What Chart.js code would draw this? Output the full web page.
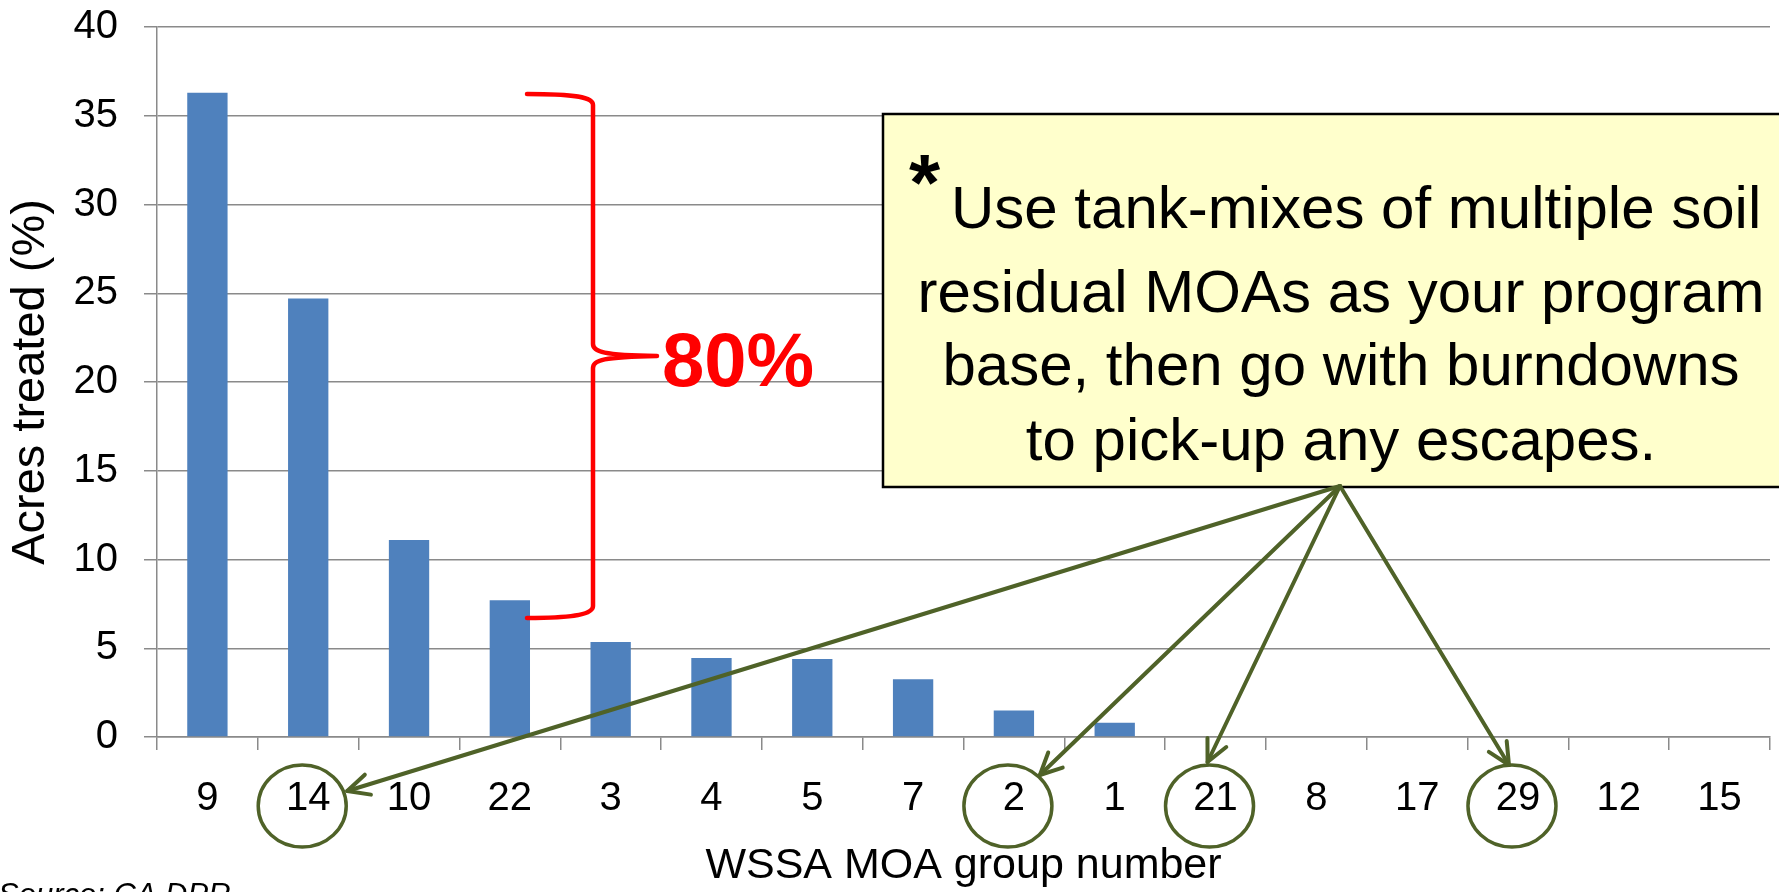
<!DOCTYPE html>
<html><head><meta charset="utf-8">
<script src="https://cdn.jsdelivr.net/npm/chart.js@4/dist/chart.umd.min.js"></script>
<style>html,body{margin:0;padding:0;background:#fff;overflow:hidden}canvas{display:block}</style>
</head><body>
<canvas id="c" width="1779" height="892"></canvas>
<script>
// ---- data ----
const categories = ['9','14','10','22','3','4','5','7','2','1','21','8','17','29','12','15'];
const acresTreated = [36.3, 24.7, 11.1, 7.7, 5.35, 4.45, 4.4, 3.25, 1.5, 0.8, 0, 0, 0, 0, 0, 0];
const yTickValues = [0, 5, 10, 15, 20, 25, 30, 35, 40];
const circledGroups = ['14', '2', '21', '29'];
const yAxisTitle = 'Acres treated (%)';
const xAxisTitle = 'WSSA MOA group number';
const braceLabel = '80%';
const boxLines = ['Use tank-mixes of multiple soil', 'residual MOAs as your program', 'base, then go with burndowns', 'to pick-up any escapes.'];
const sourceNote = 'Source: CA DPR';

const FONT = '"Liberation Sans", Arial, Helvetica, sans-serif';
const GRID = '#8a8a8a';
const OLIVE = '#4F6228';

// arrow tip offsets relative to circle centres (annotation styling)
const tipOffsets = {'14': [45, -15], '2': [32, -31], '21': [-2, -44], '29': [-3, -41]};

const annotations = {
  id: 'annotations',
  afterDatasetsDraw(chart) {
    const {ctx, scales: {x}} = chart;
    ctx.save();

    // yellow call-out box
    const bx = 883, by = 114, bb = 487;
    ctx.fillStyle = '#FFFFCC';
    ctx.fillRect(bx, by, 1800 - bx, bb - by);
    ctx.strokeStyle = '#000';
    ctx.lineWidth = 2.5;
    ctx.strokeRect(bx, by, 1800 - bx, bb - by);

    ctx.fillStyle = '#000';
    ctx.font = 'bold 80px ' + FONT;
    ctx.textAlign = 'left';
    ctx.textBaseline = 'alphabetic';
    ctx.fillText('*', 909, 210);
    ctx.font = '60px ' + FONT;
    ctx.fillText(boxLines[0], 951, 228);
    ctx.textAlign = 'center';
    const cx = 1341;
    ctx.fillText(boxLines[1], cx, 312);
    ctx.fillText(boxLines[2], cx, 385);
    ctx.fillText(boxLines[3], cx, 460);

    // red brace
    ctx.strokeStyle = '#FF0000';
    ctx.lineWidth = 4.5;
    ctx.lineJoin = 'round';
    ctx.lineCap = 'round';
    ctx.beginPath();
    ctx.moveTo(527, 94);
    ctx.bezierCurveTo(575, 94, 593, 97, 593, 105);
    ctx.lineTo(593, 344);
    ctx.bezierCurveTo(593, 352, 603, 355, 657, 356);
    ctx.bezierCurveTo(603, 357, 593, 360, 593, 368);
    ctx.lineTo(593, 606);
    ctx.bezierCurveTo(593, 614, 575, 618, 527, 618);
    ctx.stroke();

    ctx.fillStyle = '#FF0000';
    ctx.font = 'bold 76px ' + FONT;
    ctx.textAlign = 'left';
    ctx.fillText(braceLabel, 662, 386);

    // circles and arrows
    const origin = [1340, 486];
    ctx.strokeStyle = OLIVE;
    ctx.lineCap = 'round';
    circledGroups.forEach(g => {
      const i = categories.indexOf(g);
      const ccx = x.getPixelForValue(i) - 6;
      const ccy = 806;
      ctx.lineWidth = 3.5;
      ctx.beginPath();
      ctx.ellipse(ccx, ccy, 44, 41, 0, 0, Math.PI * 2);
      ctx.stroke();
      const tx = ccx + tipOffsets[g][0], ty = ccy + tipOffsets[g][1];
      ctx.lineWidth = 4;
      ctx.beginPath();
      ctx.moveTo(origin[0], origin[1]);
      ctx.lineTo(tx, ty);
      ctx.stroke();
      const ang = Math.atan2(origin[1] - ty, origin[0] - tx);
      const hl = 24, ha = 0.45;
      ctx.beginPath();
      ctx.moveTo(tx + hl * Math.cos(ang - ha), ty + hl * Math.sin(ang - ha));
      ctx.lineTo(tx, ty);
      ctx.lineTo(tx + hl * Math.cos(ang + ha), ty + hl * Math.sin(ang + ha));
      ctx.stroke();
    });

    // source note (clipped at bottom)
    ctx.fillStyle = '#000';
    ctx.font = 'italic 31px ' + FONT;
    ctx.textAlign = 'left';
    ctx.fillText(sourceNote, -2, 905);

    ctx.restore();
  }
};

new Chart(document.getElementById('c'), {
  type: 'bar',
  data: {
    labels: categories,
    datasets: [{
      data: acresTreated,
      backgroundColor: '#4F81BD',
      borderWidth: 0,
      categoryPercentage: 1.0,
      barPercentage: 0.4
    }]
  },
  options: {
    responsive: false,
    devicePixelRatio: 1,
    animation: false,
    layout: {padding: {top: 27, left: 0, right: 9, bottom: 0}},
    plugins: {legend: {display: false}, tooltip: {enabled: false}, title: {display: false}},
    scales: {
      x: {
        grid: {display: true, drawOnChartArea: false, drawTicks: true, tickLength: 13, color: GRID, lineWidth: 1.5, offset: true},
        border: {display: true, color: GRID, width: 1.5},
        ticks: {color: '#000', font: {family: FONT, size: 40}, padding: 25, maxRotation: 0, autoSkip: false},
        title: {display: true, text: xAxisTitle, color: '#000', font: {family: FONT, size: 43}, padding: {top: 0, bottom: 0}},
        afterFit(scale) { scale.height = 155; scale.paddingLeft = 0; scale.paddingRight = 0; }
      },
      y: {
        min: 0, max: 40,
        afterBuildTicks(scale) { scale.ticks = yTickValues.map(v => ({value: v})); },
        grid: {color: GRID, lineWidth: 1.5, drawTicks: true, tickLength: 13},
        border: {display: true, color: GRID, width: 1.5},
        ticks: {color: '#000', font: {family: FONT, size: 40}, padding: 26},
        title: {display: true, text: yAxisTitle, color: '#000', font: {family: FONT, size: 47}, padding: {top: 3, bottom: 3}},
        afterFit(scale) { scale.width = 157; scale.paddingTop = 0; scale.paddingBottom = 0; }
      }
    }
  },
  plugins: [annotations]
});
</script>
</body></html>
